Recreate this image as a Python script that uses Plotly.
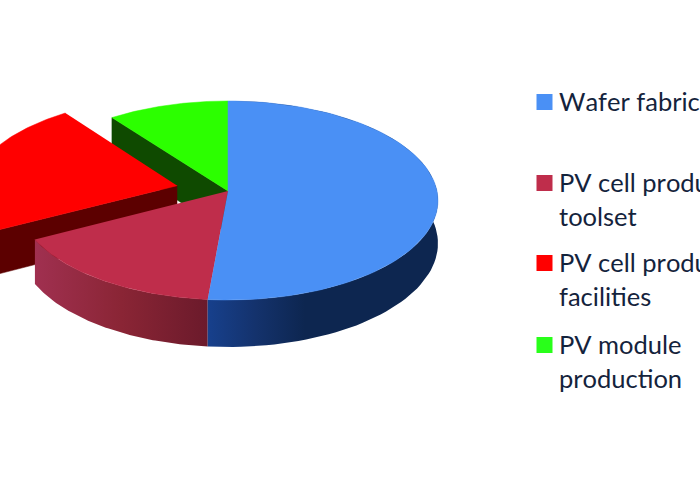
import numpy as np
import plotly.graph_objects as go

categories = ["Wafer fabrication", "PV cell production<br>toolset", "PV cell production<br>facilities", "PV module<br>production"]
values = [51.4, 15.8, 22.6, 10.2]
explode = [0, 0, 0.25, 0]
top_colors = ["#4a90f5", "#bf2d4b", "#ff0000", "#2cff00"]
cut_colors = ["#0d2650", "#6b1a2b", "#5c0000", "#0f4a00"]
wall_gradients = [["#17408c", "#14326c", "#0d2650"], ["#a03050", "#8a2535", "#6b1a2b"], ["#5c0000", "#5c0000"], ["#0f4a00", "#0f4a00"]]
legend_y = [102, 183, 263, 345]

CX, CY, RX, A, K, DEPTH = 228, 191, 209, 98.6, 0.0955, 42.5


def project(X, Y, z=0.0):
    d = 1 + K * Y
    return CX + RX * X / d, CY - A * Y / d + z * DEPTH / d


edges = np.concatenate([[0], np.cumsum(values)]) / sum(values) * 2 * np.pi
starts, ends = edges[:-1], edges[1:]


def offset(i):
    mid = (starts[i] + ends[i]) / 2
    return explode[i] * np.sin(mid), explode[i] * np.cos(mid)


def arc(i, a0, a1):
    ox, oy = offset(i)
    t = np.linspace(a0, a1, 90)
    return ox + np.sin(t), oy + np.cos(t)


fig = go.Figure()


def add_poly(x, y, color=None, gradient=None, grange=None):
    kw = dict(x=list(x), y=list(y), mode="lines", fill="toself", hoverinfo="skip", showlegend=False)
    if gradient:
        n = len(gradient) - 1
        kw["fillgradient"] = dict(type="horizontal", start=grange[0], stop=grange[1],
                                  colorscale=[[j / n, c] for j, c in enumerate(gradient)])
        kw["line"] = dict(width=0)
    else:
        kw["fillcolor"] = color
        kw["line"] = dict(width=0.5, color=color)
    fig.add_trace(go.Scatter(**kw))


def add_top(i):
    X, Y = arc(i, starts[i], ends[i])
    ox, oy = offset(i)
    sx, sy = project(np.r_[ox, X], np.r_[oy, Y])
    add_poly(sx, sy, top_colors[i])


def add_cut(i, angle):
    ox, oy = offset(i)
    ex, ey = ox + np.sin(angle), oy + np.cos(angle)
    x0, y0 = project(ox, oy)
    x1, y1 = project(ex, ey)
    x2, y2 = project(ex, ey, 1)
    x3, y3 = project(ox, oy, 1)
    add_poly([x0, x1, x2, x3], [y0, y1, y2, y3], cut_colors[i])


def add_wall(i, a0, a1, grange):
    X, Y = arc(i, a0, a1)
    tx, ty = project(X, Y)
    bx, by = project(X, Y, 1)
    add_poly(np.r_[tx, bx[::-1]], np.r_[ty, by[::-1]], gradient=wall_gradients[i], grange=grange)


# painter's order, back to front
add_cut(3, starts[3])
add_top(3)
add_wall(2, starts[2], 1.5 * np.pi, (-60, 40))
add_cut(2, starts[2])
add_top(2)
add_wall(1, starts[1], ends[1], (35, 208))
add_top(1)
add_wall(0, 0, ends[0], (208, 305))
add_top(0)

fig.add_trace(go.Scatter(x=[544.5] * 4, y=legend_y, mode="markers", hoverinfo="skip", showlegend=False,
                         marker=dict(symbol="square", size=16, color=["#4a90f5", "#bf2d4b", "#ff0000", "#29ff1a"], line=dict(width=0))))

for name, ly in zip(categories, legend_y):
    for k, line in enumerate(name.split("<br>")):
        fig.add_annotation(x=557.5, y=ly - 1 + k * 33.5, xref="x", yref="y", text=line, showarrow=False,
                           xanchor="left", yanchor="middle", yshift=0, align="left", borderpad=0,
                           font=dict(family="Lato", size=25.5, color="#14233c"))

fig.update_layout(width=700, height=500, margin=dict(l=0, r=0, t=0, b=0), paper_bgcolor="white", plot_bgcolor="white",
                  xaxis=dict(range=[0, 700], visible=False), yaxis=dict(range=[500, 0], visible=False))
fig.write_html("out.html", config={"displayModeBar": False},
               post_script="document.body.style.margin='0';document.body.style.overflow='hidden';"
                           "var s=document.createElement('style');s.textContent='text{font-variant-ligatures:none;font-kerning:none}';"
                           "document.head.appendChild(s);")
